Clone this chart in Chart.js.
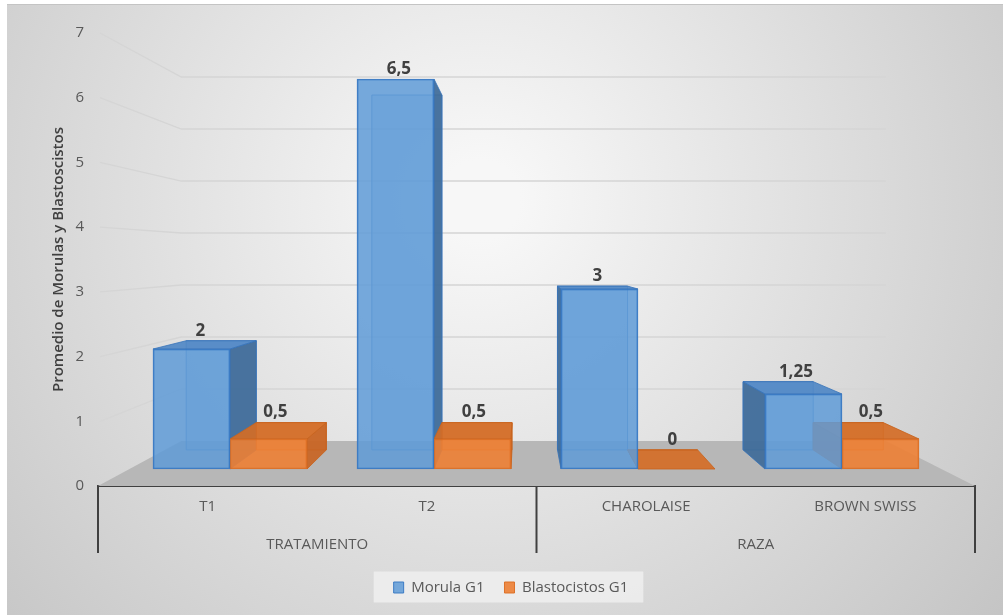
<!DOCTYPE html>
<html>
<head>
<meta charset="utf-8">
<title>Promedio de Morulas y Blastocistos</title>
<script src="https://cdn.jsdelivr.net/npm/chart.js@4.4.1/dist/chart.umd.min.js"></script>
<style>
  html, body { margin: 0; padding: 0; background: #fff; }
  #wrap { width: 1003px; height: 615px; position: relative; }
</style>
</head>
<body>
<div id="wrap"><canvas id="chart"></canvas></div>
<script>
const categories = ['T1', 'T2', 'CHAROLAISE', 'BROWN SWISS'];
const groups = ['TRATAMIENTO', 'RAZA'];
const morula = [2, 6.5, 3, 1.25];
const blastocistos = [0.5, 0.5, 0, 0.5];
const yTicks = [0, 1, 2, 3, 4, 5, 6, 7];

// perspective: vanishing point and depth factors (bar back face, back wall)
const VP = { x: 522, y: 257 };
const BAR_DEPTH = 0.91;
const WALL_DEPTH = 0.8035;
const FONT = "'Open Sans', 'Liberation Sans', sans-serif";

function project(x, y, k) {
  return [VP.x + k * (x - VP.x), VP.y + k * (y - VP.y)];
}

function poly(ctx, pts, fill, stroke) {
  ctx.beginPath();
  ctx.moveTo(pts[0][0], pts[0][1]);
  for (let i = 1; i < pts.length; i++) ctx.lineTo(pts[i][0], pts[i][1]);
  ctx.closePath();
  if (fill) { ctx.fillStyle = fill; ctx.fill(); }
  if (stroke) { ctx.strokeStyle = stroke; ctx.lineWidth = 1; ctx.stroke(); }
}

const fmt = v => String(v).replace('.', ',');

// background, frame and legend panel
const backdrop = {
  id: 'backdrop',
  beforeDraw(chart) {
    const { ctx, width, height } = chart;
    ctx.save();
    ctx.fillStyle = '#fff';
    ctx.fillRect(0, 0, width, height);
    const g = ctx.createRadialGradient(480, 200, 40, 480, 200, 700);
    g.addColorStop(0, '#f7f7f7');
    g.addColorStop(1, '#c2c2c2');
    ctx.fillStyle = g;
    ctx.fillRect(7, 4, width - 7, height - 4);
    ctx.fillStyle = '#c4c4c4';
    ctx.fillRect(7, 4, width - 7, 1);

    const boxes = chart.legend && chart.legend.legendHitBoxes;
    if (boxes && boxes.length) {
      const l = Math.min(...boxes.map(b => b.left));
      const r = Math.max(...boxes.map(b => b.left + b.width));
      const cy = boxes[0].top + boxes[0].height / 2;
      ctx.fillStyle = 'rgba(238,238,238,0.85)';
      ctx.fillRect(l - 20, cy - 16, r - l + 35, 31);
    }
    ctx.restore();
  }
};

// floor, wall grid and the hidden faces of each column
const box3d = {
  id: 'box3d',
  beforeDatasetsDraw(chart) {
    const { ctx, chartArea: area, scales: { y } } = chart;
    ctx.save();

    const fl = project(area.left, area.bottom, WALL_DEPTH);
    const fr = project(area.right, area.bottom, WALL_DEPTH);
    poly(ctx, [[area.left, area.bottom], fl, fr, [area.right, area.bottom]], '#b7b7b7');

    ctx.strokeStyle = '#d5d5d5';
    ctx.lineWidth = 1.3;
    yTicks.forEach(v => {
      if (v === 0) return;
      const py = y.getPixelForValue(v);
      const a = project(area.left, py, WALL_DEPTH);
      const b = project(area.right, py, WALL_DEPTH);
      ctx.beginPath();
      ctx.moveTo(area.left + 2, py);
      ctx.lineTo(a[0], a[1]);
      ctx.lineTo(b[0], a[1]);
      ctx.stroke();
    });

    chart.data.datasets.forEach((ds, di) => {
      chart.getDatasetMeta(di).data.forEach(bar => {
        const { x, y: top, base, width } = bar.getProps(['x', 'y', 'base', 'width'], true);
        const l = x - width / 2, r = x + width / 2;
        const [bl, bt] = project(l, top, BAR_DEPTH);
        const [br, bb] = project(r, base, BAR_DEPTH);
        // back face
        poly(ctx, [[bl, bt], [br, bt], [br, bb], [bl, bb]], ds.backColor, ds.edgeColor);
        if (bl < l) poly(ctx, [[l, top], [bl, bt], [bl, bb], [l, base]], ds.sideColor, ds.edgeColor);
        if (br > r) poly(ctx, [[r, top], [br, bt], [br, bb], [r, base]], ds.sideColor, ds.edgeColor);
        if (bt < top) poly(ctx, [[l, top], [r, top], [br, bt], [bl, bt]], ds.topColor, ds.edgeColor);
      });
    });
    ctx.restore();
  },
  afterDatasetsDraw(chart) {
    // value labels above each column
    const { ctx } = chart;
    ctx.save();
    ctx.font = `bold 17px ${FONT}`;
    ctx.fillStyle = '#404040';
    ctx.textAlign = 'center';
    ctx.textBaseline = 'middle';
    chart.data.datasets.forEach((ds, di) => {
      chart.getDatasetMeta(di).data.forEach((bar, i) => {
        const { x, y: top } = bar.getProps(['x', 'y'], true);
        const [bx, bt] = project(x, top, BAR_DEPTH);
        ctx.fillText(fmt(ds.data[i].y), x + 0.3 * (bx - x), Math.min(top, bt) - 10);
      });
    });
    ctx.restore();
  },
  afterDraw(chart) {
    // group brackets under the category axis
    const { ctx, chartArea: area, scales: { xGroup } } = chart;
    const mid = (xGroup.getPixelForValue(0) + xGroup.getPixelForValue(1)) / 2;
    ctx.save();
    ctx.strokeStyle = '#404040';
    ctx.lineWidth = 2;
    [area.left, mid, area.right].forEach(px => {
      ctx.beginPath();
      ctx.moveTo(px, area.bottom);
      ctx.lineTo(px, xGroup.bottom - 7);
      ctx.stroke();
    });
    ctx.restore();
  }
};

new Chart(document.getElementById('chart'), {
  type: 'bar',
  data: {
    datasets: [{
      label: 'Morula G1',
      data: morula.map((v, i) => ({ x: i, y: v })),
      xAxisID: 'xBar', yAxisID: 'yBar',
      backgroundColor: 'rgba(95,155,215,0.85)',
      borderColor: 'rgba(55,120,195,0.95)',
      borderWidth: 1.5,
      borderSkipped: false,
      backColor: 'rgba(110,165,220,0.35)',
      sideColor: 'rgba(62,106,152,0.92)',
      topColor: 'rgba(80,136,198,0.92)',
      edgeColor: 'rgba(55,115,185,0.8)'
    }, {
      label: 'Blastocistos G1',
      data: blastocistos.map((v, i) => ({ x: i, y: v })),
      xAxisID: 'xBar', yAxisID: 'yBar',
      backgroundColor: 'rgba(237,128,52,0.9)',
      borderColor: 'rgba(220,110,35,0.95)',
      borderWidth: 1.5,
      borderSkipped: false,
      backColor: 'rgba(230,125,50,0.35)',
      sideColor: 'rgba(200,100,35,0.92)',
      topColor: 'rgba(212,108,38,0.92)',
      edgeColor: 'rgba(200,100,30,0.85)'
    }]
  },
  options: {
    responsive: true, maintainAspectRatio: false, animation: false,
    barThickness: 77,
    layout: { padding: { left: 47, right: 28, top: 33, bottom: 10 } },
    plugins: {
      legend: {
        position: 'bottom',
        labels: {
          boxWidth: 10, boxHeight: 11, padding: 20,
          color: '#595959', font: { family: FONT, size: 15 },
          generateLabels: chart => chart.data.datasets.map((ds, i) => ({
            text: ds.label, fillStyle: ds.backgroundColor, strokeStyle: ds.borderColor,
            lineWidth: 1, datasetIndex: i, fontColor: '#595959'
          }))
        }
      },
      tooltip: { enabled: false }
    },
    scales: {
      xBar: { type: 'linear', display: false, offset: false, min: -0.647, max: 3.652 },
      yBar: { type: 'linear', display: false, min: -0.2833, max: 7.2667 },
      x: {
        type: 'category', labels: categories, offset: true, position: 'bottom', weight: 0,
        grid: { display: false, drawTicks: false },
        border: { display: true, color: '#404040', width: 2 },
        ticks: { color: '#595959', padding: 12, font: { family: FONT, size: 15 }, maxRotation: 0 },
        afterFit: s => { s.height = 41; }
      },
      xGroup: {
        type: 'category', labels: groups, offset: true, position: 'bottom', weight: 1,
        grid: { display: false, drawTicks: false },
        border: { display: false },
        ticks: { color: '#595959', padding: 9, font: { family: FONT, size: 15 }, maxRotation: 0 },
        afterFit: s => { s.height = 33; }
      },
      y: {
        type: 'linear', position: 'left', min: 0, max: 7,
        grid: { display: false, drawTicks: false },
        border: { display: false },
        ticks: { stepSize: 1, color: '#595959', padding: 14, font: { family: FONT, size: 15 } },
        title: {
          display: true, text: 'Promedio de Morulas y Blastoscistos',
          color: '#404040', font: { family: FONT, size: 15, weight: 600 },
          padding: { top: 3, bottom: 0 }
        },
        afterFit: s => { s.width = 51; }
      }
    }
  },
  plugins: [backdrop, box3d]
});
</script>
</body>
</html>
